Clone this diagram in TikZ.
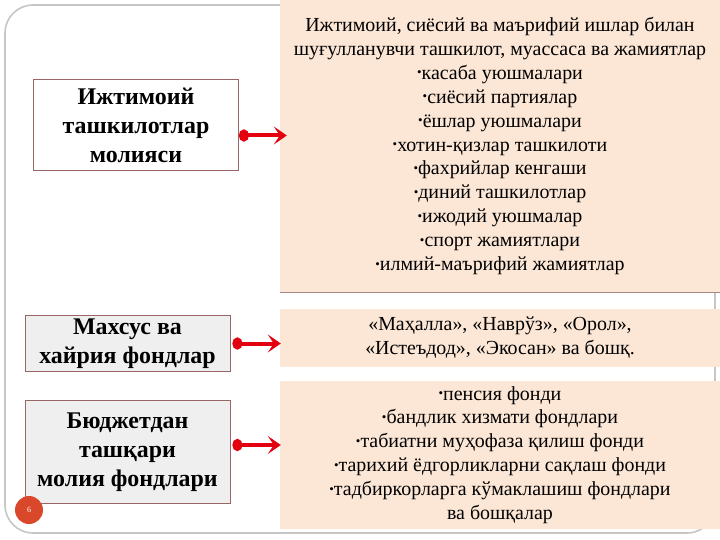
\documentclass[tikz,border=0pt]{standalone}
\usepackage{fontspec}
\setmainfont{Liberation Serif}
\usetikzlibrary{arrows.meta}
\definecolor{peach}{HTML}{FCE7D6}
\definecolor{rim}{HTML}{A98585}
\definecolor{boxgray}{HTML}{EFEFEF}
\definecolor{arrowred}{HTML}{E3000F}
\definecolor{pagedot}{HTML}{D9482B}
\newcommand\dotmark{\raisebox{0.25ex}{\fontsize{13}{13}\selectfont•}}
\begin{document}
\begin{tikzpicture}[x=1bp, y=-1bp,
	leftbox/.style={draw=gray!80!red, line width=0.8bp, minimum width=205bp, align=center, font=\bfseries\fontsize{24}{29}\selectfont, inner sep=0pt},
	rightbox/.style={draw=rim, double=peach, double distance=1.2bp, fill=peach, minimum width=438bp, align=center, font=\fontsize{20}{24}\selectfont, inner sep=0pt},
	redarrow/.style={draw=arrowred, line width=4bp, {Circle[length=10bp,width=12bp]}-{Stealth[length=13bp,width=18bp,inset=6bp]}}]
	\useasboundingbox (0,0) rectangle (720,540);
	\draw [gray!45, line width=1.6bp, rounded corners=28bp] (5,5) rectangle (715,533);

	% left column
	\node[leftbox, fill=white, minimum height=91bp] (social) at (136,125) {Ижтимоий\\ташкилотлар\\молияси};
		\node[leftbox, fill=boxgray, minimum height=56bp] (charity) at (127.5,343.5) {Махсус ва\\хайрия фондлар};
		\node[leftbox, fill=boxgray, minimum height=103bp] (offbudget) at (127.5,452) {Бюджетдан\\ташқари\\молия фондлари};

	% right column
	\node[rightbox, minimum height=291bp] (orgs) at (500,146) {Ижтимоий, сиёсий ва маърифий ишлар билан\\шуғулланувчи ташкилот, муассаса ва жамиятлар\\\dotmark касаба уюшмалари\\\dotmark сиёсий партиялар\\\dotmark ёшлар уюшмалари\\\dotmark хотин-қизлар ташкилоти\\\dotmark фахрийлар кенгаши\\\dotmark диний ташкилотлар\\\dotmark ижодий уюшмалар\\\dotmark спорт жамиятлари\\\dotmark илмий-маърифий жамиятлар};
		\node[rightbox, minimum height=56bp] (funds) at (500,338) {«Маҳалла», «Наврўз», «Орол»,\\«Истеъдод», «Экосан» ва бошқ.};
		\node[rightbox, minimum height=146bp] (budget) at (500,455) {\dotmark пенсия фонди\\\dotmark бандлик хизмати фондлари\\\dotmark табиатни муҳофаза қилиш фонди\\\dotmark тарихий ёдгорликларни сақлаш фонди\\\dotmark тадбиркорларга кўмаклашиш фондлари\\ва бошқалар};

						\draw[redarrow] ([yshift=-10.5bp]social.east) -- ([xshift=6bp,yshift=-10.5bp]social.east -| orgs.west);
						\draw[redarrow] ([xshift=2bp]charity.east) -- (charity.east -| funds.west);
						\draw[redarrow] ([xshift=2bp,yshift=7bp]offbudget.east) -- ([yshift=7bp]offbudget.east -| budget.west);

	\node[circle, fill=pagedot, minimum size=28bp, inner sep=0pt, text=white, font=\fontsize{8}{8}\selectfont] (page) at (29,510) {6};
\end{tikzpicture}
\end{document}
